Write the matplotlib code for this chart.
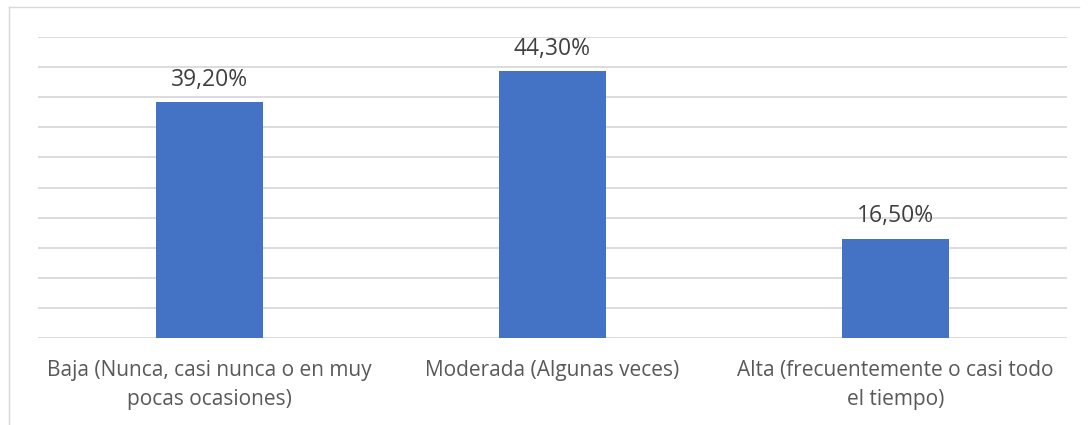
import numpy as np
import matplotlib.pyplot as plt
from matplotlib.lines import Line2D

categories = ['Baja (Nunca, casi nunca o en muy\npocas ocasiones)',
              'Moderada (Algunas veces)',
              'Alta (frecuentemente o casi todo\nel tiempo)']
values = [0.392, 0.443, 0.165]
labels = ['39,20%', '44,30%', '16,50%']

plt.rcParams['font.family'] = ['Open Sans', 'DejaVu Sans']

fig = plt.figure(figsize=(10.89, 4.25), dpi=100)
ax = fig.add_axes([38 / 1089, 1 - 338 / 425, (1067 - 38) / 1089, (338 - 37) / 425])

x = np.arange(len(categories))
ax.bar(x, values, width=0.31, color='#4472C4', zorder=3)
for xi, v, lab in zip(x, values, labels):
    ax.text(xi, v + 0.017, lab, ha='center', va='bottom', fontsize=16.5, color='#404040')

ax.set_xlim(-0.5, 2.5)
ax.set_ylim(0, 0.5)
ax.set_yticks(np.arange(0, 0.501, 0.05))
ax.yaxis.grid(True, color='#D9D9D9', linewidth=1.3, zorder=0)
ax.tick_params(axis='y', left=False, labelleft=False)
ax.tick_params(axis='x', length=0, pad=16, labelsize=15, labelcolor='#595959')
ax.set_xticks(x)
ax.set_xticklabels(categories, linespacing=1.5)
for s in ax.spines.values():
    s.set_visible(False)

# outer chart frame (top and left edges visible)
fig.add_artist(Line2D([9 / 1089, 1079 / 1089], [1 - 7 / 425, 1 - 7 / 425],
                      transform=fig.transFigure, color='#D9D9D9', linewidth=1))
fig.add_artist(Line2D([9 / 1089, 9 / 1089], [0, 1 - 7 / 425],
                      transform=fig.transFigure, color='#D9D9D9', linewidth=1))

fig.savefig('out.png', dpi=100)
